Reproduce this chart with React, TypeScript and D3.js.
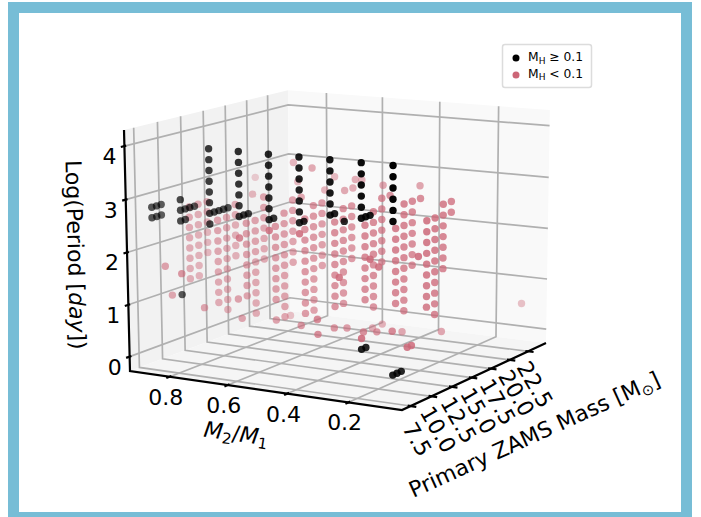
import React from 'react';
import * as d3 from 'd3';

// axis ticks
const massTicks = [7.5, 10, 12.5, 15, 17.5, 20, 22.5];
const qTicks = [0.2, 0.4, 0.6, 0.8];
const logPTicks = [0, 1, 2, 3, 4];
const massDomain = [6.5, 25];
const qDomain = [0.94, 0.03];
const logPDomain = [-0.28, 4.3];

// [q, mass, logP values]
const blackColumns: [number, number, number[]][] = [
  [0.9, 8, [2.8, 2.6]], [0.9, 8.5, [2.8, 2.6]], [0.9, 9, [2.8, 2.6]],
  [0.8, 8, [3.0, 2.8, 2.6]], [0.8, 8.5, [2.8, 2.6]], [0.8, 9, [2.8]], [0.8, 9.5, [2.8]],
  [0.7, 8, [4.0, 3.8, 3.6, 3.4, 3.2, 3.0, 2.8, 2.6]], [0.7, 8.5, [2.8]], [0.7, 9, [2.8]], [0.7, 9.5, [2.8]], [0.7, 10, [2.8]],
  [0.6, 8, [4.0, 3.8, 3.6, 3.4, 3.2, 3.0, 2.8]], [0.6, 8.5, [2.8]], [0.6, 9, [2.8]],
  [0.5, 8, [4.0, 3.8, 3.6, 3.4, 3.2, 3.0, 2.8]], [0.5, 8.5, [2.8]],
  [0.4, 8, [4.0, 3.8, 3.6, 3.4, 3.2, 3.0, 2.8]], [0.4, 8.5, [2.8]],
  [0.3, 8, [4.0, 3.8, 3.6, 3.4, 3.2, 3.0]], [0.3, 8.5, [3.0]], [0.3, 9.6, [2.8]],
  [0.2, 8, [4.0, 3.8, 3.6, 3.4, 3.2, 3.0]], [0.2, 8.5, [3.0]], [0.2, 9, [3.0]],
  [0.1, 8, [4.0, 3.8, 3.6, 3.4, 3.2, 3.0]],
  [0.8, 8, [1.2]],
  [0.2, 8, [0.6]], [0.2, 8.5, [0.6]],
  [0.1, 8, [0.2]], [0.1, 8.5, [0.2]], [0.1, 9, [0.2]],
];

const redColumns: [number, number, number[]][] = [
  [0.9, 12, [2.6, 2.4, 2.2, 2.0, 1.8, 1.6, 1.4, 1.2]],
  [0.9, 13, [2.6, 2.4, 2.2, 2.0, 1.8, 1.6, 1.4, 1.2]],
  [0.9, 14, [2.6, 2.4, 2.2, 2.0, 1.8, 1.6]],
  [0.8, 12, [2.4, 2.2, 2.0, 1.8, 1.6, 1.4, 1.2, 1.0, 0.8]],
  [0.8, 13, [2.4, 2.2, 2.0, 1.8, 1.6, 1.4, 1.2, 1.0, 0.8, 0.6]],
  [0.8, 14, [2.6, 2.4, 2.2, 2.0, 1.8, 1.6]],
  [0.7, 12, [2.4, 2.2, 2.0, 1.8, 1.6, 1.4, 1.2, 1.0]],
  [0.7, 13, [2.4, 2.2, 2.0, 1.8, 1.6, 1.4, 1.2, 1.0, 0.8, 0.6]],
  [0.7, 14, [2.8, 2.6, 2.4, 2.2, 2.0, 1.8, 1.6]],
  [0.6, 12, [2.4, 2.2, 2.0, 1.8, 1.6, 1.4, 1.2, 1.0]],
  [0.6, 13, [2.6, 2.4, 2.2, 2.0, 1.8, 1.6, 1.4, 1.2, 1.0, 0.8, 0.6]],
  [0.6, 14, [2.8, 2.6, 2.4, 2.2, 2.0, 1.8, 1.6]],
  [0.6, 15, [2.8]],
  [0.5, 12, [2.6, 2.4, 2.2, 2.0, 1.8, 1.6, 1.4, 1.2, 1.0, 0.8]],
  [0.5, 13, [2.8, 2.6, 2.4, 2.2, 2.0, 1.8, 1.6, 1.4, 1.2, 1.0, 0.8]],
  [0.5, 14, [2.8, 2.6, 2.4, 2.2, 2.0, 1.8, 1.6]],
  [0.4, 12, [2.6, 2.4, 2.2, 2.0, 1.8, 1.6, 1.4, 1.2, 1.0]],
  [0.4, 13, [2.8, 2.6, 2.4, 2.2, 2.0, 1.8, 1.6, 1.4, 1.2, 1.0]],
  [0.4, 14, [2.8, 2.6, 2.4, 2.2, 2.0, 1.8]],
  [0.3, 12, [2.6, 2.4, 2.2, 2.0, 1.8, 1.6, 1.4, 1.2]],
  [0.3, 13, [2.8, 2.6, 2.4, 2.2, 2.0, 1.8, 1.6, 1.4, 1.2, 1.0]],
  [0.3, 14, [3.0, 2.8, 2.6, 2.4, 2.2, 2.0, 1.8]],
  [0.3, 15, [3.0]],
  [0.2, 12, [2.6, 2.4, 2.2, 2.0, 1.8, 1.6, 1.4, 1.2]],
  [0.2, 13, [3.0, 2.8, 2.6, 2.4, 2.2, 2.0, 1.8, 1.6, 1.4, 1.2, 1.0]],
  [0.2, 14, [3.0, 2.8, 2.6, 2.4, 2.2, 2.0, 1.8]],
  [0.2, 15, [3.0]],
  [0.1, 12, [2.8, 2.6, 2.4, 2.2, 2.0, 1.8, 1.6, 1.4, 1.2]],
  [0.1, 13, [2.8, 2.6, 2.4, 2.2, 2.0, 1.8, 1.6, 1.4, 1.2, 1.0]],
  [0.1, 14, [3.0, 2.8, 2.6, 2.4, 2.2, 2.0, 1.8]],
  [0.1, 15, [3.0, 2.8]],
];

// the loose points around the grid: [q, mass, logP]
const redLoose: [number, number, number][] = [
  [0.7, 17.5, 3.3], [0.6, 16.3, 3.3], [0.7, 18, 2.9], [0.6, 17.8, 2.8], [0.6, 19, 3.0],
  [0.5, 16.7, 2.9], [0.5, 17.7, 2.9], [0.5, 18, 3.05], [0.5, 18.8, 3.0], [0.4, 17.8, 3.0],
  [0.3, 18.7, 3.0], [0.9, 19.6, 2.8], [0.8, 16, 2.7], [0.1, 24.4, 0.5],
  [0.9, 9.3, 1.6], [0.9, 10, 1.0], [0.8, 8, 1.6], [0.8, 10.4, 0.8], [0.7, 11, 1.0], [0.7, 11.4, 0.6],
  [0.6, 12, 0.6], [0.7, 17, 0.3], [0.5, 11.5, 0.6], [0.6, 16.8, 0.3], [0.5, 13.4, 0.6],
  [0.4, 11.9, 0.6], [0.4, 13.4, 0.5], [0.3, 11.8, 0.6], [0.4, 16.5, 0.3], [0.3, 13.4, 0.5],
  [0.4, 17.7, 0.3], [0.2, 11.6, 0.7], [0.3, 16.5, 0.3], [0.4, 10, 0.6], [0.2, 8, 0.8],
  [0.1, 9.7, 0.6], [0.1, 10.2, 0.6], [0.2, 17.7, 0.3],
  [0.6, 8, 2.4], [0.5, 8, 2.6], [0.4, 8, 2.6], [0.3, 9, 1.8], [0.2, 9, 2.2], [0.2, 10, 2.0], [0.1, 11, 2.2],
];

const RED = '#cc6677';
const GRID = '#b0b0b0';
const FONT = '"DejaVu Sans", sans-serif';

// Pixel positions of the cube corners: they fix the perspective camera.
type V2 = [number, number];
const cornerL: V2 = [130, 371];
const cornerBack: V2 = [290, 311];
const cornerFront: V2 = [402, 410];
const cornerTop: V2 = [124, 130];
const cornerRight: V2 = [546, 343];
const cornerBackTop: V2 = [288, 87];

function solve3(a: number[], b: number[], c: number[], d: number[]) {
  const det = (p: number[], q: number[], r: number[]) =>
    p[0] * (q[1] * r[2] - q[2] * r[1]) - q[0] * (p[1] * r[2] - p[2] * r[1]) + r[0] * (p[1] * q[2] - p[2] * q[1]);
  const D = det(a, b, c);
  return [det(d, b, c) / D, det(a, d, c) / D, det(a, b, d) / D];
}
const h = (p: V2) => [p[0], p[1], 1];
const [wa, wb] = solve3(h(cornerBack), h(cornerFront), h(cornerRight).map(v => -v), h(cornerL));
const [, wc] = solve3(h(cornerBack), h(cornerTop), h(cornerBackTop).map(v => -v), h(cornerL));

function project(a: number, b: number, c: number): [number, number, number] {
  const L = h(cornerL), B = h(cornerBack), F = h(cornerFront), T = h(cornerTop);
  const r = [0, 1, 2].map(i => L[i] + a * (wa * B[i] - L[i]) + b * (wb * F[i] - L[i]) + c * (wc * T[i] - L[i]));
  return [r[0] / r[2], r[1] / r[2], r[2]];
}

const aScale = d3.scaleLinear().domain(massDomain).range([0, 1]);
const bScale = d3.scaleLinear().domain(qDomain).range([0, 1]);
const cScale = d3.scaleLinear().domain(logPDomain).range([0, 1]);

const line = d3.line();
const path = (pts: number[][]) => line(pts.map(p => {
  const q = project(p[0], p[1], p[2]);
  return [q[0], q[1]] as [number, number];
})) as string;

type Pt = { mass: number; q: number; logP: number; color: string };
const points: Pt[] = [
  ...redColumns.flatMap(([q, mass, ls]) => ls.map(logP => ({ q, mass, logP, color: RED }))),
  ...redLoose.map(([q, mass, logP]) => ({ q, mass, logP, color: RED })),
  ...blackColumns.flatMap(([q, mass, ls]) => ls.map(logP => ({ q, mass, logP, color: '#000' }))),
];
const placed = points.map(p => {
  const [x, y, w] = project(aScale(p.mass), bScale(p.q), cScale(p.logP));
  return { ...p, x, y, w };
});
const depthAlpha = d3.scaleLinear()
  .domain(d3.extent(placed, d => d.w) as [number, number])
  .range([1, 0.3]);
const sorted = d3.sort(placed, (p, q) => q.w - p.w);

export default function App() {
  return (
    <svg width={701} height={517} style={{ position: 'absolute', left: 0, top: 0, fontFamily: FONT }}>
      <rect x={13.5} y={7.5} width={673} height={510} fill="#fff" stroke="#77bdd6" strokeWidth={11} />

      <path d={path([[0, 0, 0], [1, 0, 0], [1, 0, 1], [0, 0, 1]]) + 'Z'} fill="#f2f2f2" />
      <path d={path([[1, 0, 0], [1, 1, 0], [1, 1, 1], [1, 0, 1]]) + 'Z'} fill="#f9f9f9" />
      <path d={path([[0, 0, 0], [1, 0, 0], [1, 1, 0], [0, 1, 0]]) + 'Z'} fill="#f5f5f5" />

      <g fill="none" stroke={GRID} strokeWidth={1.7}>
        {massTicks.map(m => (
          <path key={m} d={path([[aScale(m), 0, 1], [aScale(m), 0, 0], [aScale(m), 1, 0]])} />
        ))}
        {qTicks.map(q => (
          <path key={q} d={path([[1, bScale(q), 1], [1, bScale(q), 0], [0, bScale(q), 0]])} />
        ))}
        {logPTicks.map(l => (
          <path key={l} d={path([[0, 0, cScale(l)], [1, 0, cScale(l)], [1, 1, cScale(l)]])} />
        ))}
      </g>

      <g fill="none" stroke="#000" strokeWidth={2.2}>
        <path d={path([[0, 0, 1], [0, 0, 0], [0, 1, 0], [1, 1, 0]])} />
        {massTicks.map(m => <path key={m} d={path([[aScale(m), 0.99, 0], [aScale(m), 1.02, 0]])} />)}
        {qTicks.map(q => <path key={q} d={path([[0.01, bScale(q), 0], [-0.02, bScale(q), 0]])} />)}
        {logPTicks.map(l => <path key={l} d={path([[0.01, 0, cScale(l)], [-0.02, 0, cScale(l)]])} />)}
      </g>

      {sorted.map((p, i) => (
        <circle key={i} cx={p.x} cy={p.y} r={3.7} fill={p.color} fillOpacity={depthAlpha(p.w)} />
      ))}

      <g fontSize={22} fill="#000" textAnchor="middle">
        {logPTicks.map(l => {
          const [x, y] = project(0, 0, cScale(l));
          return <text key={l} x={x - 15} y={y + 18}>{l}</text>;
        })}
        {qTicks.map(q => {
          const [x, y] = project(0, bScale(q), 0);
          return <text key={q} x={x - 4} y={y + 28}>{q.toFixed(1)}</text>;
        })}
        {massTicks.map(m => {
          const [x, y] = project(aScale(m), 1, 0);
          return (
            <text key={m} transform={`translate(${x + 7},${y + 33}) rotate(60)`} dy={8}>{m.toFixed(1)}</text>
          );
        })}
      </g>

      <g fontSize={22} fill="#000" textAnchor="middle">
        <text transform="translate(68,255) rotate(88.5)">
          Log(Period [<tspan fontStyle="italic">day</tspan>])
        </text>
        <text transform="translate(235,441) rotate(8)">
          <tspan fontStyle="italic">M</tspan><tspan fontSize={15} dy={4}>2</tspan>
          <tspan dy={-4}>/</tspan><tspan fontStyle="italic">M</tspan><tspan fontSize={15} dy={4}>1</tspan>
        </text>
        <text transform="translate(535,436) rotate(-24.5)" dy={6}>
          Primary ZAMS Mass [M<tspan fontSize={15} dy={4}>⊙</tspan><tspan dy={-4}>]</tspan>
        </text>
      </g>

      <rect x={502.5} y={44.5} width={89} height={43} rx={2.5} fill="#fff" stroke="#dcdcdc" strokeWidth={1.5} />
      <circle cx={516} cy={58} r={3.5} fill="#000" />
      <circle cx={516} cy={75} r={3.5} fill={RED} />
      <g fontSize={12.3} fill="#000">
        <text x={528} y={61}>M<tspan fontSize={9} dy={2.5}>H</tspan><tspan dy={-2.5}> ≥ 0.1</tspan></text>
        <text x={528} y={77.5}>M<tspan fontSize={9} dy={2.5}>H</tspan><tspan dy={-2.5}> &lt; 0.1</tspan></text>
      </g>
    </svg>
  );
}
